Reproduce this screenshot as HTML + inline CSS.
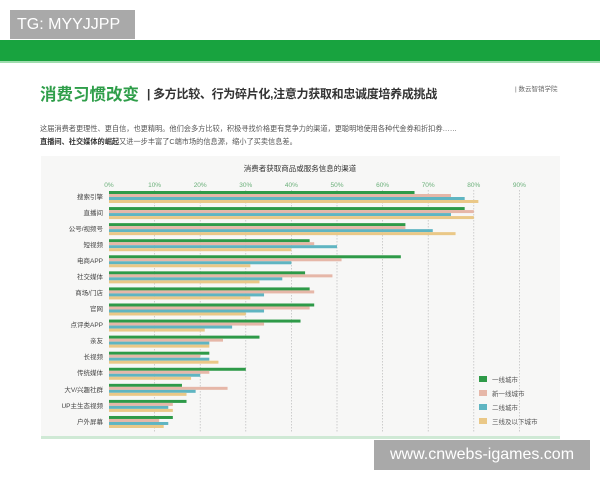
<!DOCTYPE html>
<html><head><meta charset="utf-8">
<style>
body{margin:0;width:600px;height:480px;background:#fff;overflow:hidden;position:relative;font-family:"Liberation Sans","Noto Sans CJK SC",sans-serif}
.tg{position:absolute;left:10px;top:10px;width:125px;height:29px;background:#a9a9a9;color:#fff;font-size:16px;line-height:29px;padding-left:7px;box-sizing:border-box}
.band{position:absolute;left:0;top:40px;width:600px;height:21px;background:#18a33f;border-bottom:2px solid #9fdcae}
.t1{position:absolute;left:40px;top:81px;font-size:16.5px;font-weight:bold;color:#2f9e4a;white-space:nowrap}
.t2{position:absolute;left:147px;top:85px;font-size:12px;font-weight:bold;color:#333;white-space:nowrap;letter-spacing:-0.3px}
.src{position:absolute;left:515px;top:83px;font-size:6.5px;color:#666;white-space:nowrap}
.p{position:absolute;left:40px;font-size:7.2px;color:#555;white-space:nowrap}
.wm{position:absolute;left:374px;top:440px;width:216px;height:30px;background:#a9a9a9;color:#fff;font-size:16px;line-height:30px;text-align:center}
svg{position:absolute;left:0;top:0}
</style></head><body>
<div class="tg">TG: MYYJJPP</div>
<div class="band"></div>
<div class="t1">消费习惯改变</div>
<div class="t2">| 多方比较、行为碎片化,注意力获取和忠诚度培养成挑战</div>
<div class="src">| 数云智销学院</div>
<div class="p" style="top:124px">这届消费者更理性、更自信，也更精明。他们会多方比较，积极寻找价格更有竞争力的渠道，更聪明地使用各种代金券和折扣券……</div>
<div class="p" style="top:137px"><b style="color:#333">直播间、社交媒体的崛起</b>又进一步丰富了C端市场的信息源，缩小了买卖信息差。</div>
<svg width="600" height="480" id="s">
<rect x="41" y="156" width="519" height="282" fill="#f7f7f6"/>
<rect x="41" y="436" width="519" height="3" fill="#cfe9d5"/>
<text x="300" y="171" font-size="7.5" fill="#333" text-anchor="middle" font-family="Liberation Sans,Noto Sans CJK SC,sans-serif">消费者获取商品或服务信息的渠道</text>
<g id="g"></g>
<g font-size="6.5" fill="#444" text-anchor="end" font-family="Liberation Sans,Noto Sans CJK SC,sans-serif">
<text x="103" y="199">搜索引擎</text><text x="103" y="215">直播间</text><text x="103" y="231">公号/视频号</text><text x="103" y="247">短视频</text><text x="103" y="263">电商APP</text><text x="103" y="279">社交媒体</text><text x="103" y="295">商场/门店</text><text x="103" y="311">官网</text><text x="103" y="327">点评类APP</text><text x="103" y="343">亲友</text><text x="103" y="359">长视频</text><text x="103" y="375">传统媒体</text><text x="103" y="392">大V/兴趣社群</text><text x="103" y="408">UP主生态视频</text><text x="103" y="424">户外屏幕</text>
</g>
<g font-size="6.5" font-family="Liberation Sans,Noto Sans CJK SC,sans-serif" fill="#555">
<rect x="479" y="376" width="8" height="6" fill="#2e9a48"/><text x="492" y="382">一线城市</text>
<rect x="479" y="390" width="8" height="6" fill="#e6b7a8"/><text x="492" y="396">新一线城市</text>
<rect x="479" y="404" width="8" height="6" fill="#5fb5c2"/><text x="492" y="410">二线城市</text>
<rect x="479" y="418" width="8" height="6" fill="#eac887"/><text x="492" y="424">三线及以下城市</text>
</g>
</svg>
<div class="wm">www.cnwebs-igames.com</div>
<script>
var d=[[67,75,78,81],[78,80,75,80],[65,65,71,76],[44,45,50,40],[64,51,40,31],[43,49,38,33],[44,45,34,31],[45,44,34,30],[42,34,27,21],[33,25,22,22],[22,20,22,24],[30,22,20,18],[16,26,19,17],[17,14,13,14],[14,11,13,12]];
var c=["#2e9a48","#e6b7a8","#5fb5c2","#eac887"];
var g=document.getElementById("g"),h="";
for(var k=0;k<=9;k++){var x=109+45.6*k;
 h+='<text x="'+x+'" y="187" font-size="6.5" fill="#6bb07a" text-anchor="middle" font-family="Liberation Sans,sans-serif">'+(k*10)+'%</text>';
 if(k>0)h+='<line x1="'+x+'" y1="190" x2="'+x+'" y2="432" stroke="#bbb" stroke-width="0.7" stroke-dasharray="1.5,1.5"/>';}
for(var i=0;i<d.length;i++){var y=191+16.07*i;
 for(var j=0;j<4;j++){h+='<rect x="109" y="'+(y+j*3)+'" width="'+(d[i][j]*4.56)+'" height="3" fill="'+c[j]+'"/>';}}
g.innerHTML=h;
</script>
</body></html>
